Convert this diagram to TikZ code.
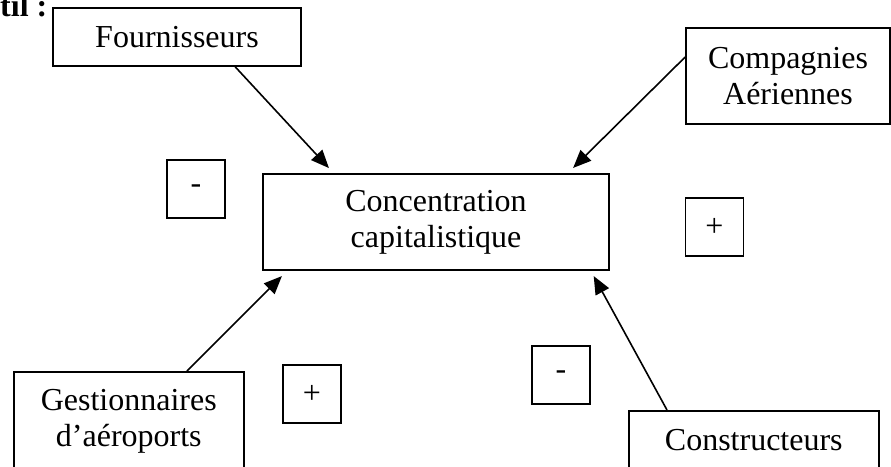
\documentclass[tikz,border=0pt]{standalone}
\usepackage{fontspec}
\setmainfont{Liberation Serif}
\usetikzlibrary{arrows.meta,calc}
\begin{document}
\begin{tikzpicture}[x=1pt,y=-1pt,
  box/.style={draw,line width=1.6pt,rectangle,inner sep=0pt,align=center,font=\fontsize{32}{36}\selectfont},
  sign/.style={box,minimum width=58pt,minimum height=58pt},
  arr/.style={line width=1.6pt,-{Triangle[length=18pt,width=15pt]}}]
\useasboundingbox (0,0) rectangle (891,466);
\clip (0,0) rectangle (891,466);
\node[anchor=base west,inner sep=0pt,font=\fontsize{32}{36}\selectfont\bfseries] (title) at (0,16) {til :};
\node[box,minimum width=248pt,minimum height=58pt] (four) at (177,37) {Fournisseurs};
\node[box,minimum width=204pt,minimum height=96pt] (comp) at (788,76) {Compagnies\\Aériennes};
\node[box,minimum width=346pt,minimum height=96pt] (cent) at (436,222) {Concentration\\capitalistique};
\node[box,minimum width=230pt,minimum height=100pt,anchor=north west] (gest) at (13,371) {Gestionnaires\\d’aéroports};
\node[box,minimum width=250pt,minimum height=58pt,anchor=north west] (cons) at (628,410) {Constructeurs};
\node[sign] (s1) at (196,189) {-};
\node[sign] (s2) at (714.5,227) {+};
\node[sign] (s3) at (312,394) {+};
\node[sign] (s4) at (561,375) {-};
\draw[arr,shorten >=7pt] ([xshift=183pt]four.south west) -- ([xshift=71.5pt]cent.north west);
\draw[arr,shorten >=7.5pt] ([yshift=19pt]comp.west) -- ([xshift=-42pt]cent.north east);
\draw[arr,shorten >=7.5pt] ([xshift=174pt]gest.north west) -- ([xshift=25pt]cent.south west);
\draw[arr,shorten >=6pt] ([xshift=39pt]cons.north west) -- ([xshift=-19pt]cent.south east);
\end{tikzpicture}
\end{document}
